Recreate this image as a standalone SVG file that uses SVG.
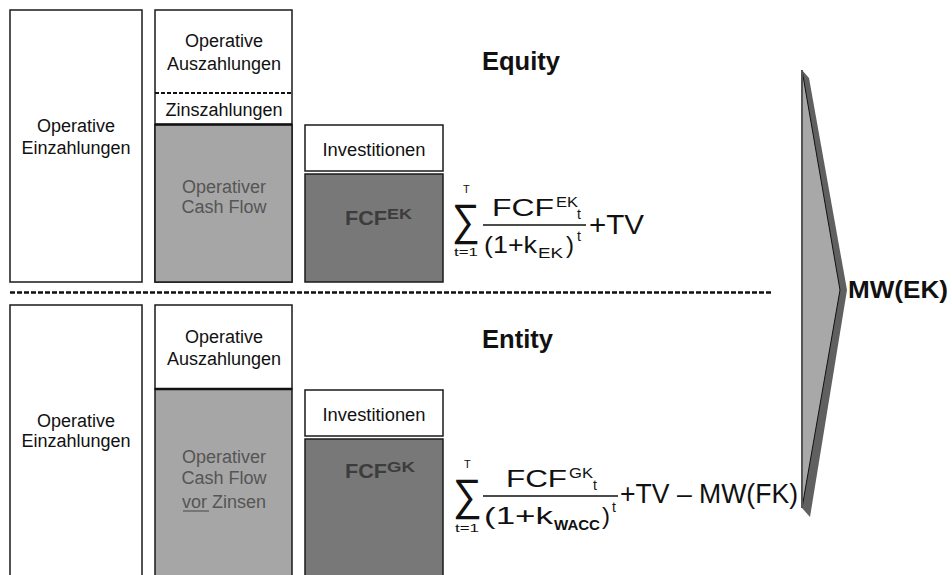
<svg xmlns="http://www.w3.org/2000/svg" width="952" height="575" viewBox="0 0 952 575">
<defs>
<style>
.box{stroke:#1a1a1a;stroke-width:1.5;}
.w{fill:#ffffff;}
.g{fill:#a6a6a6;}
.d{fill:#787878;}
text{font-family:"Liberation Sans",Arial,sans-serif;}
.t18{font-size:18px;fill:#111;text-anchor:middle;}
.tg{font-size:18px;fill:#555;text-anchor:middle;}
.fcf{font-size:21px;font-weight:bold;fill:#3c3c3c;}
.fsup{font-size:14px;font-weight:bold;fill:#3c3c3c;}
.hd{font-size:25px;font-weight:bold;fill:#111;}
.m{font-size:24px;fill:#111;}
.ms{font-size:14px;fill:#111;}
.mb{font-size:28px;fill:#111;}
.sig{font-size:44px;fill:#111;}
.lim{font-size:11px;fill:#111;}
</style>
</defs>
<rect width="952" height="575" fill="#ffffff"/>

<!-- Equity (top) -->
<g id="eq-einzahlungen">
<rect class="box w" x="10" y="10" width="132" height="272"/>
<text class="t18" x="76" y="132">Operative</text>
<text class="t18" x="76" y="154">Einzahlungen</text>
</g>
<g id="eq-auszahlungen">
<rect class="box w" x="155" y="10" width="137" height="272"/>
<text class="t18" x="224" y="47">Operative</text>
<text class="t18" x="224" y="70">Auszahlungen</text>
<line x1="155" y1="93" x2="292" y2="93" stroke="#111" stroke-width="2" stroke-dasharray="4 2"/>
<text class="t18" x="224" y="116">Zinszahlungen</text>
</g>
<g id="eq-ocf">
<rect class="box g" x="155" y="124.5" width="137" height="157.5"/>
<line x1="155" y1="124.5" x2="292" y2="124.5" stroke="#111" stroke-width="2.5"/>
<text class="tg" x="224" y="193">Operativer</text>
<text class="tg" x="224" y="213">Cash Flow</text>
</g>
<g id="eq-investitionen">
<rect class="box w" x="305" y="125" width="138" height="46"/>
<text class="t18" x="374" y="156" font-size="17" textLength="103" lengthAdjust="spacingAndGlyphs">Investitionen</text>
</g>
<g id="eq-fcf">
<rect class="box d" x="305" y="174" width="138" height="108"/>
<text class="fcf" x="345" y="225" textLength="42" lengthAdjust="spacingAndGlyphs">FCF</text>
<text class="fsup" x="387" y="219" textLength="25" lengthAdjust="spacingAndGlyphs">EK</text>
</g>
<g id="eq-title">
<text class="hd" x="482" y="70" textLength="78" lengthAdjust="spacingAndGlyphs">Equity</text>
</g>
<g id="eq-formula">
<text class="sig" x="452" y="235" textLength="28" lengthAdjust="spacingAndGlyphs">∑</text>
<text class="lim" x="463" y="193">T</text>
<text class="lim" x="454" y="256" textLength="24" lengthAdjust="spacingAndGlyphs">t=1</text>
<text class="m" x="492" y="216" textLength="62" lengthAdjust="spacingAndGlyphs">FCF</text>
<text class="ms" x="556" y="207" textLength="22" lengthAdjust="spacingAndGlyphs">EK</text>
<text class="ms" x="577" y="219">t</text>
<line x1="483" y1="225" x2="586" y2="225" stroke="#111" stroke-width="1.5"/>
<text class="m" x="484" y="253" textLength="53" lengthAdjust="spacingAndGlyphs">(1+k</text>
<text class="ms" x="538" y="258" textLength="25" lengthAdjust="spacingAndGlyphs">EK</text>
<text class="m" x="566" y="253">)</text>
<text class="ms" x="577" y="241">t</text>
<text class="mb" x="589" y="234" textLength="55" lengthAdjust="spacingAndGlyphs">+TV</text>
</g>

<!-- Entity (bottom) -->
<g id="en-einzahlungen">
<rect class="box w" x="10" y="305" width="132" height="280"/>
<text class="t18" x="76" y="427">Operative</text>
<text class="t18" x="76" y="447">Einzahlungen</text>
</g>
<g id="en-auszahlungen">
<rect class="box w" x="155" y="305" width="137" height="84"/>
<text class="t18" x="224" y="343">Operative</text>
<text class="t18" x="224" y="365">Auszahlungen</text>
</g>
<g id="en-ocf">
<rect class="box g" x="155" y="389" width="137" height="196"/>
<line x1="155" y1="389" x2="292" y2="389" stroke="#111" stroke-width="2.5"/>
<text class="tg" x="224" y="463">Operativer</text>
<text class="tg" x="224" y="484">Cash Flow</text>
<text class="tg" x="224" y="508">vor Zinsen</text>
<line x1="183" y1="511" x2="209" y2="511" stroke="#555" stroke-width="1.2"/>
</g>
<g id="en-investitionen">
<rect class="box w" x="305" y="390" width="138" height="46"/>
<text class="t18" x="374" y="421" font-size="17" textLength="103" lengthAdjust="spacingAndGlyphs">Investitionen</text>
</g>
<g id="en-fcf">
<rect class="box d" x="305" y="439" width="138" height="146"/>
<text class="fcf" x="345" y="478" textLength="42" lengthAdjust="spacingAndGlyphs">FCF</text>
<text class="fsup" x="387" y="472" textLength="28" lengthAdjust="spacingAndGlyphs">GK</text>
</g>
<g id="en-title">
<text class="hd" x="482" y="348" textLength="71" lengthAdjust="spacingAndGlyphs">Entity</text>
</g>
<g id="en-formula">
<text class="sig" x="453" y="510" textLength="29" lengthAdjust="spacingAndGlyphs">∑</text>
<text class="lim" x="464" y="468">T</text>
<text class="lim" x="455" y="532" textLength="24" lengthAdjust="spacingAndGlyphs">t=1</text>
<text class="m" x="506" y="487" textLength="61" lengthAdjust="spacingAndGlyphs">FCF</text>
<text class="ms" x="569" y="478" textLength="24" lengthAdjust="spacingAndGlyphs">GK</text>
<text class="ms" x="593" y="490">t</text>
<line x1="483" y1="496" x2="618" y2="496" stroke="#111" stroke-width="1.5"/>
<text class="m" x="484" y="524" textLength="69" lengthAdjust="spacingAndGlyphs">(1+k</text>
<text class="ms" x="554" y="530" font-weight="bold" textLength="46" lengthAdjust="spacingAndGlyphs">WACC</text>
<text class="m" x="602" y="524">)</text>
<text class="ms" x="612" y="512">t</text>
<text class="mb" x="620" y="503" textLength="178" lengthAdjust="spacingAndGlyphs">+TV – MW(FK)</text>
</g>

<!-- connectors -->
<g id="connectors">
<line x1="10" y1="292.5" x2="773" y2="292.5" stroke="#111" stroke-width="2.5" stroke-dasharray="5 2"/>
</g>

<g id="mw-ek">
<polygon points="802,70 809,78 847,290 810,517 802,508" fill="#606060"/>
<polygon points="802,70 840,290 802,508" fill="#a8a8a8" stroke="#111" stroke-width="1"/>
<line x1="802" y1="70" x2="802" y2="508" stroke="#555" stroke-width="2"/>
<text x="848" y="298" font-size="24" font-weight="bold" fill="#111" textLength="100" lengthAdjust="spacingAndGlyphs">MW(EK)</text>
</g>
</svg>
